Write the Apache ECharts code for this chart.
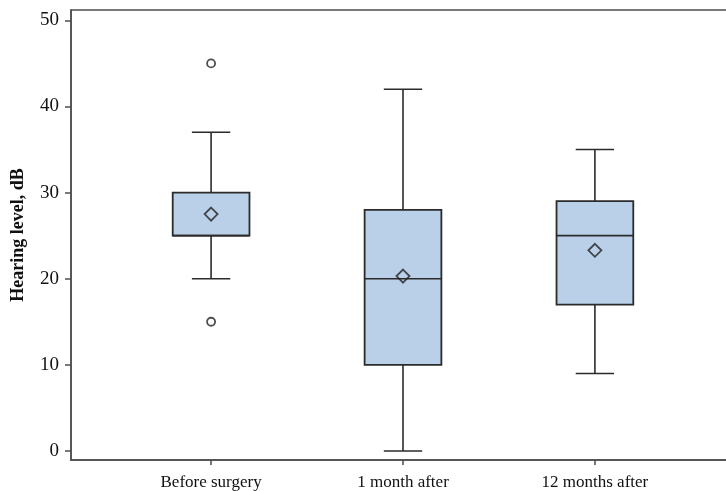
<!DOCTYPE html>
<html>
<head>
<meta charset="utf-8">
<script src="https://cdn.jsdelivr.net/npm/echarts@6/dist/echarts.min.js"></script>
<style>html,body{margin:0;padding:0;background:#fff;}#c{width:726px;height:491px;}</style>
</head>
<body>
<div id="c"></div>
<script>
const categories = ['Before surgery', '1 month after', '12 months after'];
const whiskerLow = [20, 0, 9];
const q1 = [25, 10, 17];
const median = [25, 20, 25];
const q3 = [30, 28, 29];
const whiskerHigh = [37, 42, 35];
const means = [27.5, 20.3, 23.3];
const outlierGroup = [0, 0];
const outlierValues = [45, 15];
const yTicks = [0, 10, 20, 30, 40, 50];

const boxData = categories.map((c, i) => [i + 1, whiskerLow[i], q1[i], median[i], q3[i], whiskerHigh[i]]);
const meanData = categories.map((c, i) => [i + 1, means[i]]);
const outlierData = outlierGroup.map((g, i) => [g + 1, outlierValues[i]]);

const FONT = '"Liberation Serif", "DejaVu Serif", serif';
const AXIS_COLOR = '#4d4d4d';
const BOX_W = 0.4, CAP_W = 0.2;

const chart = echarts.init(document.getElementById('c'), null, {renderer: 'canvas'});
chart.setOption({
  animation: false,
  grid: {left: 71, top: 10, bottom: 31, width: 664, containLabel: false, outerBoundsMode: 'none',
         show: true, borderColor: AXIS_COLOR, borderWidth: 1.5, backgroundColor: 'transparent'},
  xAxis: {
    type: 'value', min: 0.27, max: 3.73,
    axisLine: {show: true, onZero: false, lineStyle: {color: AXIS_COLOR, width: 1.5}},
    axisTick: {show: true, customValues: [1, 2, 3], length: 5, lineStyle: {color: AXIS_COLOR, width: 1.5}},
    axisLabel: {customValues: [1, 2, 3], formatter: v => categories[Math.round(v) - 1] || '', color: '#111', fontFamily: FONT, fontSize: 17, margin: 14},
    splitLine: {show: false}
  },
  yAxis: {
    type: 'value', min: -1.05, max: 51.2,
    name: 'Hearing level, dB', nameLocation: 'middle', nameGap: 44,
    nameTextStyle: {fontFamily: FONT, fontWeight: 'bold', fontSize: 18, color: '#111'},
    axisLine: {show: true, onZero: false, lineStyle: {color: AXIS_COLOR, width: 1.5}},
    axisTick: {show: true, customValues: yTicks, length: 6, lineStyle: {color: AXIS_COLOR, width: 1.5}},
    axisLabel: {customValues: yTicks, color: '#111', fontFamily: FONT, fontSize: 19, margin: 12},
    splitLine: {show: false}
  },
  series: [
    {
      type: 'custom',
      data: boxData,
      encode: {x: 0, y: [1, 2, 3, 4, 5]},
      renderItem: function (params, api) {
        const x = api.value(0);
        const lo = api.coord([x, api.value(1)]);
        const b1 = api.coord([x, api.value(2)]);
        const md = api.coord([x, api.value(3)]);
        const b3 = api.coord([x, api.value(4)]);
        const hi = api.coord([x, api.value(5)]);
        const bw = api.size([BOX_W, 0])[0];
        const cw = api.size([CAP_W, 0])[0];
        const cx = lo[0];
        const ls = {stroke: '#2b2b2b', lineWidth: 1.6};
        return {
          type: 'group',
          children: [
            {type: 'line', shape: {x1: cx, y1: hi[1], x2: cx, y2: b3[1]}, style: ls},
            {type: 'line', shape: {x1: cx, y1: b1[1], x2: cx, y2: lo[1]}, style: ls},
            {type: 'line', shape: {x1: cx - cw / 2, y1: hi[1], x2: cx + cw / 2, y2: hi[1]}, style: ls},
            {type: 'line', shape: {x1: cx - cw / 2, y1: lo[1], x2: cx + cw / 2, y2: lo[1]}, style: ls},
            {type: 'rect', shape: {x: cx - bw / 2, y: b3[1], width: bw, height: b1[1] - b3[1]}, style: {fill: '#bad0e8', stroke: '#2b2b2b', lineWidth: 1.8}},
            {type: 'line', shape: {x1: cx - bw / 2, y1: md[1], x2: cx + bw / 2, y2: md[1]}, style: ls}
          ]
        };
      },
      z: 2
    },
    {
      type: 'scatter', data: meanData, symbol: 'diamond', symbolSize: [13, 13],
      itemStyle: {color: 'rgba(0,0,0,0)', borderColor: '#222', borderWidth: 1.8}, z: 5
    },
    {
      type: 'scatter', data: outlierData, symbol: 'circle', symbolSize: 8,
      itemStyle: {color: '#fff', borderColor: '#222', borderWidth: 1.8}, z: 5
    }
  ]
});
</script>
</body>
</html>
